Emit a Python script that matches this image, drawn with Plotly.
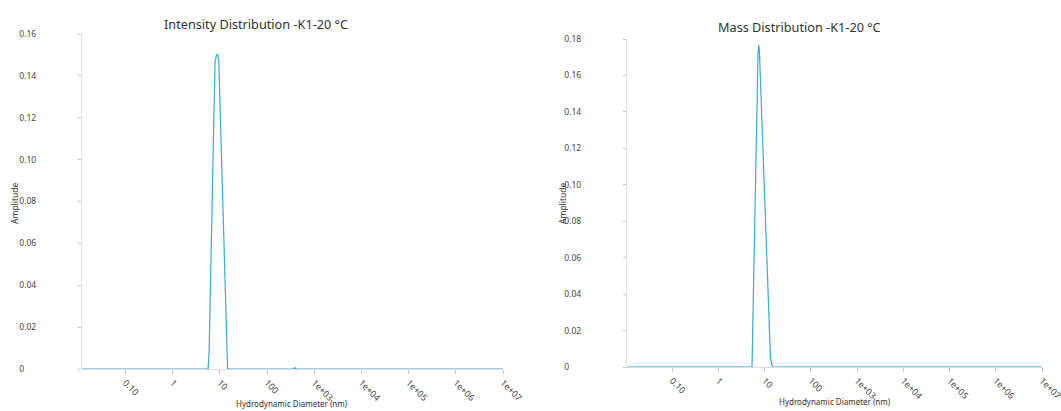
import plotly.graph_objects as go

# ---- data ----
intensity_diam = [0.012, 5.65, 5.93, 7.9, 8.4, 8.9, 9.5, 13.9, 14.6, 360, 390, 420, 1e7]
intensity_amp = [0, 0, 0.008, 0.146, 0.1495, 0.1505, 0.1475, 0.014, 0, 0, 0.0006, 0, 0]

mass_diam = [0.0105, 5.31, 7.17, 7.41, 7.67, 13.3, 14.7, 1e7]
mass_amp = [0, 0, 0.172, 0.1767, 0.174, 0.005, 0, 0]

x_tickvals = [0.1, 1, 10, 100, 1e3, 1e4, 1e5, 1e6, 1e7]
x_ticktext = ["0.10", "1", "10", "100", "1e+03", "1e+04", "1e+05", "1e+06", "1e+07"]

left_yticks = [0, 0.02, 0.04, 0.06, 0.08, 0.10, 0.12, 0.14, 0.16]
left_ytext = ["0", "0.02", "0.04", "0.06", "0.08", "0.10", "0.12", "0.14", "0.16"]
right_yticks = [0, 0.02, 0.04, 0.06, 0.08, 0.10, 0.12, 0.14, 0.16, 0.18]
right_ytext = ["0", "0.02", "0.04", "0.06", "0.08", "0.10", "0.12", "0.14", "0.16", "0.18"]

titles = ["Intensity Distribution -K1-20 °C", "Mass Distribution -K1-20 °C"]
x_title = "Hydrodynamic Diameter (nm)"
y_title = "Amplitude"

W, H = 1061, 411
LINE = "#36aad9"
FONT = "Noto Sans"

fig = go.Figure()
fig.add_trace(go.Scatter(x=intensity_diam, y=intensity_amp, mode="lines",
                         line=dict(color=LINE, width=1.2), xaxis="x", yaxis="y",
                         showlegend=False, hoverinfo="skip"))
fig.add_trace(go.Scatter(x=mass_diam, y=mass_amp, mode="lines",
                         line=dict(color=LINE, width=1.2), xaxis="x2", yaxis="y2",
                         showlegend=False, hoverinfo="skip"))

def px_x(p):
    return p / W

def px_y(p):
    return (H - p) / H

common_x = dict(type="log", tickmode="array", tickvals=x_tickvals, ticktext=x_ticktext,
                tickangle=45, ticks="outside", ticklen=4, tickcolor="#c8c8c8",
                showline=True, linecolor="#dcdcdc", linewidth=1, showgrid=False,
                zeroline=False, automargin=False, ticklabeloverflow="allow",
                tickfont=dict(family=FONT, size=9, color="#444"))
common_y = dict(tickmode="array", ticks="outside", ticklen=3, tickcolor="#c8c8c8",
                showline=True, linecolor="#e4e4e4", linewidth=1, showgrid=False,
                zeroline=False, automargin=False, ticklabeloverflow="allow",
                ticklabelposition="inside",
                tickfont=dict(family=FONT, size=8.5, color="#444"))

fig.update_layout(
    template="none",
    width=W, height=H,
    margin=dict(l=0, r=0, t=0, b=0, autoexpand=False),
    paper_bgcolor="white", plot_bgcolor="white",
    font=dict(family=FONT, color="#333"),
    showlegend=False,
    xaxis=dict(common_x, domain=[px_x(82), px_x(503)], range=[-1.92, 7.0], anchor="y"),
    yaxis=dict(common_y, domain=[px_y(369), px_y(34)], range=[0, 0.16],
               tickvals=left_yticks, ticktext=left_ytext, anchor="x",
               ticklabelstandoff=-64),
    xaxis2=dict(common_x, domain=[px_x(627), px_x(1042)], range=[-1.98, 7.0], anchor="y2"),
    yaxis2=dict(common_y, domain=[px_y(367), px_y(39)], range=[0, 0.18],
                tickvals=right_yticks, ticktext=right_ytext, anchor="x2",
                ticklabelstandoff=-64),
)

ann = []
ann.append(dict(text=titles[0], x=px_x(256), y=px_y(24), xref="paper", yref="paper",
                showarrow=False, font=dict(family=FONT, size=12.7, color="#333"),
                xanchor="center", yanchor="middle"))
ann.append(dict(text=titles[1], x=px_x(799), y=px_y(27), xref="paper", yref="paper",
                showarrow=False, font=dict(family=FONT, size=12.7, color="#333"),
                xanchor="center", yanchor="middle"))
for cx, cy in [(292, 403), (835, 401)]:
    ann.append(dict(text=x_title, x=px_x(cx), y=px_y(cy), xref="paper", yref="paper",
                    showarrow=False, font=dict(family=FONT, size=8, color="#333"),
                    xanchor="center", yanchor="middle"))
for cx, cy in [(15, 203), (563, 203)]:
    ann.append(dict(text=y_title, x=px_x(cx), y=px_y(cy), xref="paper", yref="paper",
                    showarrow=False, textangle=-90,
                    font=dict(family=FONT, size=8.5, color="#333"),
                    xanchor="center", yanchor="middle"))
fig.update_layout(annotations=ann)

fig.write_html("out.html",
               config={"displayModeBar": False},
               post_script="document.body.style.margin='0px';"
                           "document.body.style.overflow='hidden';")
